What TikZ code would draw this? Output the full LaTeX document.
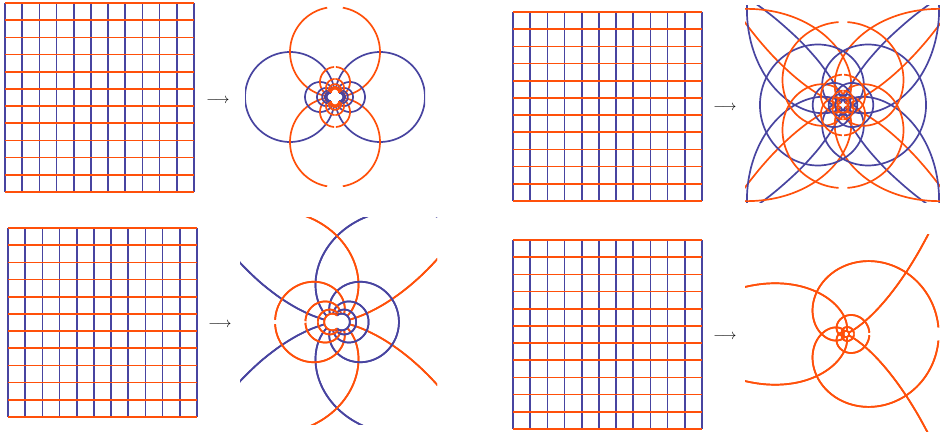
\documentclass[tikz,border=0pt]{standalone}
\usepackage{tikz}
\usetikzlibrary{calc}
\definecolor{MapBlue}{RGB}{72,68,160}
\definecolor{MapOrange}{RGB}{255,80,10}

% arc of the image of one grid line under w = z^(-\mapexp), in polar form:
% #1 style, #2:#3 angle range of z, #4 distance of the line, #5 sin or cos
\newcommand{\zarc}[5]{%
  \draw[#1] plot[variable=\x, domain=#2:#3, samples=\mapsamples, smooth]
    ({\mapexp*\x}:{\mapscale*min((abs(#5(\x))/#4)^\mapexp,\maprmax)});}

% all twelve lines of the square, mapped
\newcommand{\zpanel}[1]{%
  \foreach \k in {1,3,...,11}{
    \pgfmathsetmacro\c{\k/11}
    \pgfmathsetmacro\lo{atan(\c)}
    \pgfmathsetmacro\gp{atan(0.008/\c)}
    \pgfmathsetmacro\hi{atan(1/\c)}
    \ifnum#1=1
      \zarc{blueline}{-\hi}{\hi}{\c}{cos}
      \zarc{blueline}{180-\hi}{180+\hi}{\c}{cos}
    \fi
    \zarc{orangeline}{\lo}{90-\gp}{\c}{sin}
    \zarc{orangeline}{90+\gp}{180-\lo}{\c}{sin}
    \zarc{orangeline}{-180+\lo}{-90-\gp}{\c}{sin}
    \zarc{orangeline}{-90+\gp}{-\lo}{\c}{sin}
  }}

% the square itself, upper left corner #1, side #2
\newcommand{\zsquare}[2]{%
  \foreach \i in {0,...,11}
    \draw[blueline] ($(#1)+(\i*#2/11,0)$) -- ++(0,#2);
  \foreach \i in {0,...,11}
    \draw[orangeline] ($(#1)+(0,\i*#2/11)$) -- ++(#2,0);}

\begin{document}
\begin{tikzpicture}[x=1pt, y=-1pt,
    blueline/.style={draw=MapBlue, line width=1.7pt},
    orangeline/.style={draw=MapOrange, line width=1.7pt},
    maparrow/.style={font=\Large, inner sep=0pt}
  ]
  \useasboundingbox (0,0) rectangle (940,435);

  % squares
  \coordinate (sq1) at (5,3);
  \coordinate (sq2) at (513,12);
  \coordinate (sq3) at (8,228);
  \coordinate (sq4) at (513,240);
  \zsquare{sq1}{189}
  \zsquare{sq2}{189}
  \zsquare{sq3}{189}
  \zsquare{sq4}{189}

  % arrows
  \node[maparrow] (arr1) at (218,101) {$\longrightarrow$};
  \node[maparrow] (arr2) at (725,108) {$\longrightarrow$};
  \node[maparrow] (arr3) at (220,325) {$\longrightarrow$};
  \node[maparrow] (arr4) at (725,337) {$\longrightarrow$};

  % images, w = 1/z
  \begin{scope}
    \clip (245,7) rectangle (425,187);
    \def\mapexp{1}\def\mapscale{8.18}\def\maprmax{49}\def\mapsamples{50}
    \begin{scope}[shift={(335,97)}]
      \zpanel{1}
    \end{scope}
  \end{scope}

  % w = 1/z^3
  \begin{scope}
    \clip (745,6) rectangle (940,203);
    \def\mapexp{3}\def\mapscale{7.8}\def\maprmax{51}\def\mapsamples{110}
    \begin{scope}[shift={(843,105)}]
      \zpanel{1}
    \end{scope}
  \end{scope}

  % w = 1/z^2
  \begin{scope}
    \clip (240,218) rectangle (437,425);
    \def\mapexp{2}\def\mapscale{12.8}\def\maprmax{31}\def\mapsamples{80}
    \begin{scope}[shift={(337,322)}]
      \zpanel{1}
    \end{scope}
  \end{scope}

  % w = 1/z^4, blue lies under orange
  \begin{scope}
    \clip (745,235) rectangle (940,432);
    \def\mapexp{4}\def\mapscale{4.0}\def\maprmax{100}\def\mapsamples{130}
    \begin{scope}[shift={(845,334)}]
      \zpanel{0}
    \end{scope}
  \end{scope}
\end{tikzpicture}
\end{document}
